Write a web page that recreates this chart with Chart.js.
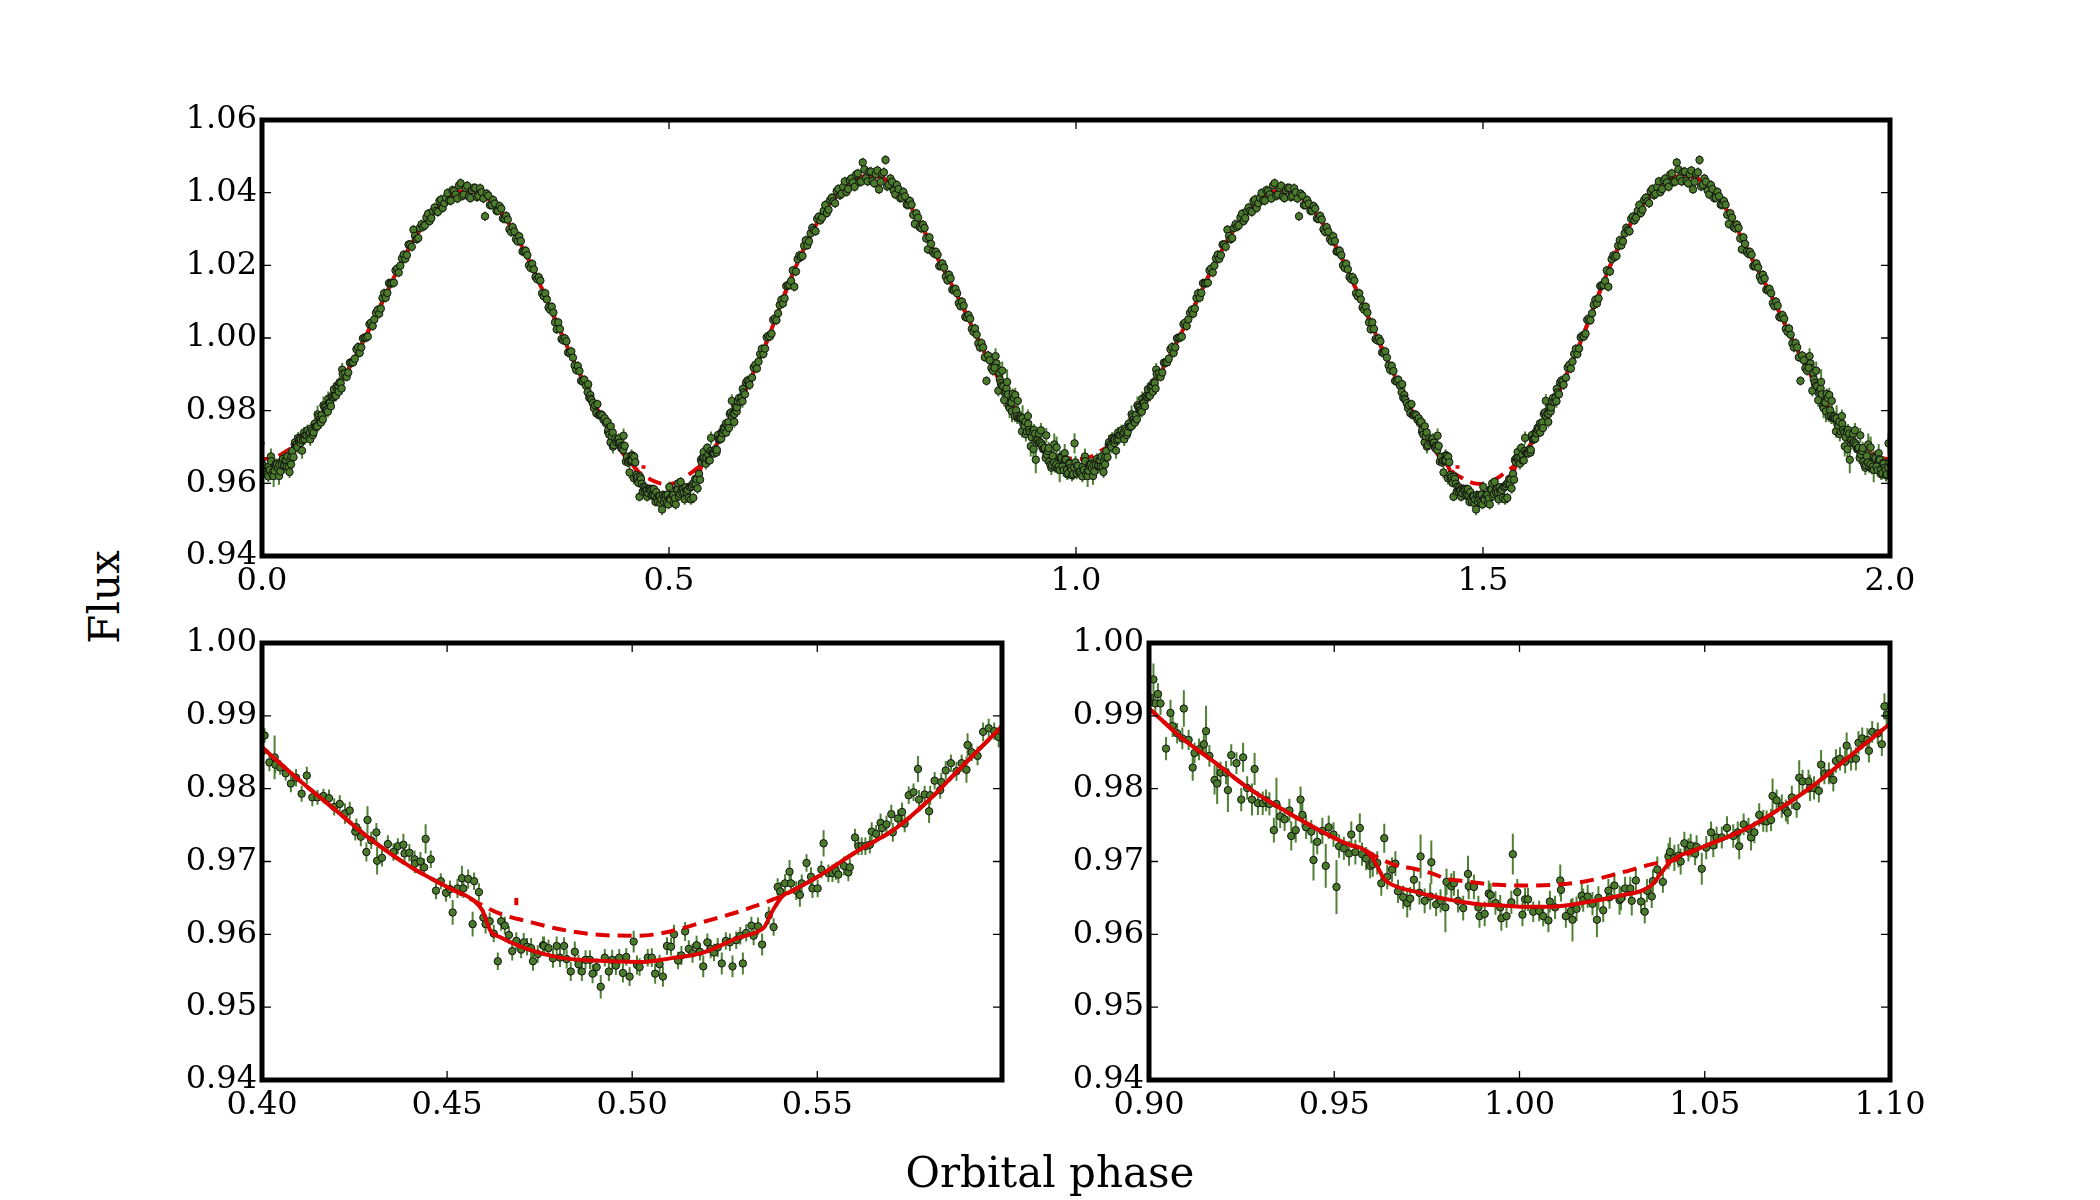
<!DOCTYPE html>
<html>
<head>
<meta charset="utf-8">
<script src="https://cdn.jsdelivr.net/npm/chart.js@4.4.1/dist/chart.umd.min.js"></script>
<style>
  body { margin: 0; width: 2100px; height: 1200px; background: #fff; position: relative; overflow: hidden; }
  canvas { position: absolute; }
  .lbl { position: absolute; font-family: 'DejaVu Serif', serif; font-size: 42px; line-height: 42px; color: #000; white-space: nowrap; }
</style>
</head>
<body>
<canvas id="panelTop"></canvas>
<canvas id="panelLeft"></canvas>
<canvas id="panelRight"></canvas>
<div class="lbl" id="xTitle">Orbital phase</div>
<div class="lbl" id="yTitle">Flux</div>
<script>
let phaseNear1 = [0.9003, 0.9012, 0.9024,
  0.9017,0.9031,0.9046,0.9058,0.9064,0.9076,0.9090,0.9094,0.9107,0.9118,
  0.9123,0.9135,0.9148,0.9154,0.9163,0.9177,0.9184,0.9193,0.9208,0.9213,
  0.9222,0.9236,0.9249,0.9254,0.9265,0.9278,0.9285,0.9294,0.9307,0.9316,
  0.9325,0.9337,0.9344,0.9354,0.9366,0.9379,0.9384,0.9396,0.9409,0.9414,
  0.9424,0.9438,0.9444,0.9454,0.9468,0.9477,0.9485,0.9498,0.9506,0.9513,
  0.9526,0.9540,0.9546,0.9557,0.9569,0.9575,0.9586,0.9597,0.9604,0.9616,
  0.9627,0.9635,0.9643,0.9656,0.9665,0.9672,0.9686,0.9697,0.9705,0.9715,
  0.9730,0.9733,0.9744,0.9759,0.9762,0.9775,0.9787,0.9800,0.9803,0.9816,
  0.9823,0.9834,0.9848,0.9861,0.9863,0.9877,0.9889,0.9892,0.9906,0.9917,
  0.9922,0.9935,0.9948,0.9951,0.9965,0.9978,0.9982,0.9994,1.0008,1.0015,
  1.0023,
  1.0037,1.0053,1.0064,1.0078,1.0082,1.0096,1.0110,1.0112,1.0125,1.0139,
  1.0143,1.0154,1.0168,1.0172,1.0184,1.0197,1.0209,1.0213,1.0226,1.0240,
  1.0243,1.0256,1.0270,1.0274,1.0285,1.0299,1.0303,1.0314,1.0328,1.0338,
  1.0344,1.0357,1.0360,1.0372,1.0387,1.0402,1.0406,1.0418,1.0429,1.0435,
  1.0445,1.0456,1.0462,1.0474,1.0478,1.0492,1.0504,1.0517,1.0523,1.0532,
  1.0546,1.0560,1.0577,1.0589,1.0593,1.0605,1.0618,1.0625,1.0634,1.0647,
  1.0658,1.0667,1.0679,1.0683,1.0694,1.0708,1.0719,1.0724,1.0735,1.0748,
  1.0755,1.0764,1.0780,1.0784,1.0795,1.0808,1.0814,1.0823,1.0835,1.0847,
  1.0854,1.0865,1.0879,1.0883,1.0895,1.0908,1.0915,1.0925,1.0939,1.0943,
  1.0952,1.0967,1.0978,1.0985,1.0991];
let fluxNear1 = [0.9925, 0.9950, 0.9930,
  0.9917,0.9917,0.9855,0.9904,0.9886,0.9876,0.9869,0.9910,0.9867,0.9829,
  0.9849,0.9854,0.9861,0.9879,0.9845,0.9812,0.9807,0.9822,0.9822,0.9798,
  0.9846,0.9835,0.9785,0.9843,0.9801,0.9785,0.9827,0.9780,0.9780,0.9784,
  0.9779,0.9743,0.9779,0.9762,0.9758,0.9770,0.9735,0.9743,0.9785,0.9764,
  0.9747,0.9741,0.9702,0.9727,0.9742,0.9694,0.9747,0.9737,0.9665,0.9721,
  0.9718,0.9711,0.9737,0.9713,0.9746,0.9710,0.9704,0.9694,0.9696,0.9698,
  0.9670,0.9732,0.9679,0.9689,0.9697,0.9659,0.9651,0.9643,0.9649,0.9675,
  0.9657,0.9707,0.9646,0.9652,0.9699,0.9641,0.9646,0.9637,0.9672,0.9666,
  0.9670,0.9646,0.9636,0.9683,0.9666,0.9665,0.9637,0.9625,0.9628,0.9656,
  0.9654,0.9643,0.9637,0.9622,0.9625,0.9644,0.9710,0.9658,0.9627,0.9648,
  0.9648,
  0.9631,0.9632,0.9625,0.9619,0.9645,0.9637,0.9674,0.9661,0.9625,0.9632,
  0.9620,0.9635,0.9653,0.9647,0.9652,0.9642,0.9620,0.9650,0.9633,0.9660,
  0.9651,0.9667,0.9647,0.9649,0.9663,0.9663,0.9646,0.9674,0.9645,0.9631,
  0.9660,0.9652,0.9673,0.9689,0.9672,0.9707,0.9713,0.9705,0.9708,0.9700,
  0.9725,0.9716,0.9722,0.9711,0.9720,0.9690,0.9719,0.9740,0.9722,0.9733,
  0.9733,0.9746,0.9735,0.9740,0.9721,0.9751,0.9745,0.9733,0.9740,0.9764,
  0.9756,0.9755,0.9757,0.9790,0.9784,0.9776,0.9770,0.9767,0.9788,0.9776,
  0.9815,0.9810,0.9810,0.9801,0.9801,0.9797,0.9833,0.9821,0.9821,0.9812,
  0.9838,0.9841,0.9837,0.9859,0.9841,0.9841,0.9863,0.9869,0.9867,0.9852,
  0.9878,0.9876,0.9861,0.9913,0.9901];
let errNear1 = [0.0018, 0.0022, 0.0015,
  0.0015,0.0016,0.0016,0.0018,0.0015,0.0014,0.0015,0.0025,0.0014,0.0018,
  0.0014,0.0015,0.0014,0.0035,0.0015,0.0020,0.0028,0.0015,0.0016,0.0030,
  0.0015,0.0015,0.0016,0.0020,0.0016,0.0022,0.0022,0.0016,0.0016,0.0015,
  0.0016,0.0017,0.0036,0.0016,0.0016,0.0016,0.0020,0.0017,0.0018,0.0017,
  0.0016,0.0016,0.0028,0.0017,0.0018,0.0030,0.0016,0.0017,0.0037,0.0016,
  0.0016,0.0017,0.0018,0.0017,0.0020,0.0016,0.0016,0.0017,0.0017,0.0016,
  0.0017,0.0020,0.0017,0.0017,0.0017,0.0016,0.0016,0.0020,0.0016,0.0017,
  0.0016,0.0030,0.0017,0.0018,0.0030,0.0016,0.0016,0.0034,0.0018,0.0018,
  0.0017,0.0016,0.0017,0.0025,0.0018,0.0017,0.0016,0.0016,0.0017,0.0018,
  0.0016,0.0016,0.0017,0.0017,0.0016,0.0016,0.0028,0.0018,0.0016,0.0016,
  0.0016,
  0.0014,0.0014,0.0014,0.0016,0.0015,0.0016,0.0022,0.0016,0.0016,0.0016,
  0.0030,0.0017,0.0016,0.0016,0.0016,0.0016,0.0024,0.0016,0.0016,0.0016,
  0.0016,0.0016,0.0020,0.0016,0.0016,0.0016,0.0020,0.0016,0.0016,0.0016,
  0.0016,0.0016,0.0016,0.0018,0.0015,0.0018,0.0020,0.0018,0.0016,0.0018,
  0.0016,0.0016,0.0016,0.0016,0.0016,0.0022,0.0016,0.0015,0.0016,0.0015,
  0.0015,0.0016,0.0016,0.0015,0.0018,0.0015,0.0015,0.0018,0.0015,0.0016,
  0.0015,0.0015,0.0015,0.0024,0.0015,0.0016,0.0015,0.0016,0.0016,0.0016,
  0.0024,0.0016,0.0016,0.0018,0.0016,0.0016,0.0020,0.0015,0.0015,0.0016,
  0.0016,0.0016,0.0016,0.0018,0.0016,0.0016,0.0016,0.0015,0.0016,0.0016,
  0.0015,0.0015,0.0016,0.0018,0.0018];

let phaseNear05 = [
  0.4007,0.4020,0.4034,0.4036,0.4049,0.4064,0.4078,0.4092,0.4107,0.4121,
  0.4136,0.4150,0.4166,0.4181,0.4195,0.4210,0.4224,0.4237,0.4252,0.4255,
  0.4267,0.4282,0.4285,0.4295,0.4309,0.4311,0.4324,0.4340,0.4355,0.4367,
  0.4382,0.4385,0.4398,0.4412,0.4413,0.4428,0.4438,0.4442,0.4456,0.4470,
  0.4483,0.4497,0.4508,0.4515,0.4528,0.4540,0.4544,0.4557,0.4569,0.4573,
  0.4586,0.4598,0.4604,0.4615,0.4626,0.4637,0.4646,0.4656,0.4667,0.4676,
  0.4687,0.4700,0.4707,0.4716,0.4727,0.4732,0.4745,0.4759,0.4762,0.4774,
  0.4786,0.4796,0.4805,0.4816,0.4823,0.4834,0.4845,0.4855,0.4864,0.4874,
  0.4886,0.4893,0.4904,0.4915,0.4926,0.4937,0.4946,0.4956,0.4965,0.4975,
  0.4984,0.4993,0.5004,0.5013,0.5020,
  0.5042,0.5053,0.5062,0.5074,0.5083,0.5094,0.5105,0.5113,0.5124,0.5133,
  0.5143,0.5153,0.5163,0.5174,0.5183,0.5192,0.5203,0.5212,0.5221,0.5231,
  0.5242,0.5253,0.5264,0.5271,0.5281,0.5292,0.5299,0.5308,0.5322,0.5328,
  0.5340,0.5351,0.5369,0.5382,0.5393,0.5400,0.5413,0.5425,0.5429,0.5443,
  0.5453,0.5458,0.5471,0.5483,0.5487,0.5501,0.5511,0.5517,0.5530,0.5541,
  0.5550,0.5557,0.5572,0.5584,0.5588,0.5602,0.5611,0.5620,0.5630,0.5642,
  0.5647,0.5659,0.5671,0.5675,0.5687,0.5700,0.5704,0.5718,0.5729,0.5736,
  0.5747,0.5760,0.5772,0.5775,0.5790,0.5802,0.5805,0.5817,0.5832,0.5835,
  0.5847,0.5861,0.5876,0.5890,0.5903,0.5906,0.5917,0.5933,0.5948,0.5963,
  0.5978,0.5990];
let fluxNear05 = [
  0.9873,0.9836,0.9843,0.9833,0.9829,0.9821,0.9807,0.9815,0.9793,0.9818,
  0.9788,0.9788,0.9790,0.9787,0.9775,0.9779,0.9766,0.9770,0.9741,0.9747,
  0.9734,0.9713,0.9757,0.9729,0.9740,0.9701,0.9705,0.9724,0.9713,0.9721,
  0.9723,0.9711,0.9712,0.9703,0.9697,0.9700,0.9692,0.9731,0.9703,0.9660,
  0.9673,0.9657,0.9662,0.9630,0.9663,0.9677,0.9663,0.9676,0.9614,0.9673,
  0.9658,0.9623,0.9614,0.9618,0.9601,0.9563,0.9618,0.9612,0.9599,0.9577,
  0.9591,0.9579,0.9589,0.9583,0.9581,0.9563,0.9573,0.9585,0.9584,0.9581,
  0.9567,0.9584,0.9568,0.9584,0.9566,0.9549,0.9576,0.9559,0.9549,0.9565,
  0.9565,0.9546,0.9555,0.9528,0.9568,0.9549,0.9565,0.9557,0.9568,0.9547,
  0.9569,0.9542,0.9590,0.9558,0.9555,
  0.9568,0.9568,0.9546,0.9559,0.9542,0.9584,0.9583,0.9600,0.9564,0.9571,
  0.9604,0.9580,0.9574,0.9585,0.9576,0.9556,0.9589,0.9580,0.9575,0.9582,
  0.9560,0.9591,0.9589,0.9556,0.9592,0.9598,0.9560,0.9602,0.9612,0.9598,
  0.9611,0.9586,0.9626,0.9610,0.9665,0.9659,0.9670,0.9686,0.9670,0.9660,
  0.9654,0.9670,0.9698,0.9679,0.9663,0.9663,0.9689,0.9725,0.9684,0.9684,
  0.9687,0.9682,0.9694,0.9685,0.9692,0.9733,0.9721,0.9721,0.9721,0.9723,
  0.9741,0.9738,0.9753,0.9746,0.9751,0.9765,0.9740,0.9759,0.9768,0.9752,
  0.9791,0.9795,0.9827,0.9785,0.9792,0.9769,0.9791,0.9811,0.9798,0.9809,
  0.9825,0.9835,0.9824,0.9835,0.9826,0.9860,0.9850,0.9845,0.9878,0.9883,
  0.9879,0.9871];
let errNear05 = [
  0.0010,0.0012,0.0030,0.0012,0.0010,0.0010,0.0012,0.0012,0.0011,0.0012,
  0.0012,0.0010,0.0010,0.0012,0.0012,0.0012,0.0014,0.0012,0.0012,0.0012,
  0.0013,0.0013,0.0019,0.0012,0.0013,0.0019,0.0012,0.0012,0.0012,0.0011,
  0.0015,0.0013,0.0012,0.0012,0.0013,0.0013,0.0012,0.0020,0.0012,0.0012,
  0.0011,0.0012,0.0012,0.0017,0.0013,0.0017,0.0013,0.0013,0.0017,0.0012,
  0.0012,0.0012,0.0013,0.0012,0.0012,0.0012,0.0013,0.0012,0.0012,0.0013,
  0.0012,0.0012,0.0013,0.0012,0.0014,0.0013,0.0012,0.0012,0.0013,0.0012,
  0.0013,0.0013,0.0013,0.0012,0.0013,0.0013,0.0014,0.0013,0.0013,0.0013,
  0.0013,0.0013,0.0012,0.0016,0.0012,0.0013,0.0014,0.0013,0.0012,0.0013,
  0.0012,0.0013,0.0015,0.0013,0.0012,
  0.0012,0.0013,0.0014,0.0013,0.0014,0.0012,0.0012,0.0013,0.0012,0.0013,
  0.0013,0.0012,0.0013,0.0013,0.0012,0.0015,0.0012,0.0013,0.0012,0.0013,
  0.0015,0.0012,0.0012,0.0015,0.0012,0.0012,0.0015,0.0012,0.0012,0.0013,
  0.0012,0.0015,0.0012,0.0012,0.0012,0.0013,0.0013,0.0016,0.0013,0.0013,
  0.0016,0.0012,0.0012,0.0013,0.0013,0.0012,0.0012,0.0018,0.0012,0.0012,
  0.0012,0.0012,0.0013,0.0012,0.0012,0.0012,0.0012,0.0012,0.0012,0.0012,
  0.0013,0.0012,0.0013,0.0012,0.0012,0.0013,0.0013,0.0012,0.0013,0.0012,
  0.0012,0.0012,0.0018,0.0013,0.0012,0.0016,0.0013,0.0012,0.0012,0.0013,
  0.0013,0.0012,0.0013,0.0012,0.0018,0.0016,0.0012,0.0013,0.0013,0.0013,
  0.0012,0.0014];

let phaseHump1 = [0.102,0.104,0.106,0.108,0.110,0.112,0.114,0.116,0.118,0.120,
  0.122,0.124,0.126,0.128,0.130,0.132,0.134,0.136,0.138,0.140,
  0.142,0.144,0.146,0.148,0.150,0.152,0.154,0.156,0.158,0.160,
  0.162,0.164,0.166,0.168,0.170,0.172,0.174,0.176,0.178,0.180,
  0.182,0.184,0.186,0.188,0.190,0.192,0.194,0.196,0.198,0.200,
  0.202,0.204,0.206,0.208,0.210,0.212,0.214,0.216,0.218,0.220,
  0.222,0.224,0.226,0.228,0.230,0.232,0.234,0.236,0.238,0.240,
  0.242,0.244,0.246,0.248,0.250,0.252,0.254,0.256,0.258,0.260,
  0.262,0.264,0.266,0.268,0.270,0.272,0.274,0.276,0.278,0.280,
  0.282,0.284,0.286,0.288,0.290,0.292,0.294,0.296,0.298,0.300,
  0.302,0.304,0.306,0.308,0.310,0.312,0.314,0.316,0.318,0.320,
  0.322,0.324,0.326,0.328,0.330,0.332,0.334,0.336,0.338,0.340,
  0.342,0.344,0.346,0.348,0.350,0.352,0.354,0.356,0.358,0.360,
  0.362,0.364,0.366,0.368,0.370,0.372,0.374,0.376,0.378,0.380,
  0.382,0.384,0.386,0.388,0.390,0.392,0.394,0.396,0.398,0.400];
let fluxHump1 = [0.9903,0.9893,0.9905,0.9932,0.9932,0.9933,0.9943,0.9969,0.9975,0.9959,
  0.9974,0.9999,1.0001,1.0001,1.0004,1.0038,1.0042,1.0033,1.0051,1.0069,
  1.0077,1.0067,1.0081,1.0110,1.0123,1.0111,1.0124,1.0151,1.0150,1.0151,
  1.0152,1.0186,1.0191,1.0180,1.0199,1.0219,1.0229,1.0218,1.0228,1.0257,
  1.0257,1.0251,1.0298,1.0281,1.0272,1.0275,1.0303,1.0313,1.0306,1.0310,
  1.0332,1.0342,1.0322,1.0330,1.0349,1.0359,1.0350,1.0347,1.0377,1.0381,
  1.0358,1.0371,1.0386,1.0399,1.0379,1.0378,1.0407,1.0404,1.0395,1.0384,
  1.0420,1.0426,1.0391,1.0395,1.0413,1.0419,1.0389,1.0385,1.0407,1.0413,
  1.0413,1.0388,1.0391,1.0412,1.0401,1.0384,1.0335,1.0397,1.0392,1.0366,
  1.0366,1.0380,1.0370,1.0350,1.0350,1.0363,1.0356,1.0329,1.0328,1.0336,
  1.0326,1.0299,1.0292,1.0305,1.0293,1.0272,1.0266,1.0280,1.0267,1.0238,
  1.0238,1.0240,1.0228,1.0200,1.0193,1.0204,1.0189,1.0168,1.0162,1.0167,
  1.0158,1.0123,1.0115,1.0123,1.0106,1.0084,1.0078,1.0086,1.0070,1.0043,
  1.0024,1.0043,1.0025,0.9997,0.9994,0.9999,0.9991,0.9960,0.9959,0.9963,
  0.9946,0.9924,0.9912,0.9923,0.9909,0.9882,0.9881,0.9885,0.9869,0.9851];
let phaseHump2 = [0.602,0.604,0.606,0.608,0.610,0.612,0.614,0.616,0.618,0.620,
  0.622,0.624,0.626,0.628,0.630,0.632,0.634,0.636,0.638,0.640,
  0.642,0.644,0.646,0.648,0.650,0.652,0.654,0.656,0.658,0.660,
  0.662,0.664,0.666,0.668,0.670,0.672,0.674,0.676,0.678,0.680,
  0.682,0.684,0.686,0.688,0.690,0.692,0.694,0.696,0.698,0.700,
  0.702,0.704,0.706,0.708,0.710,0.712,0.714,0.716,0.718,0.720,
  0.722,0.724,0.726,0.728,0.730,0.732,0.734,0.736,0.738,0.740,
  0.742,0.744,0.746,0.748,0.750,0.752,0.754,0.756,0.758,0.760,
  0.762,0.764,0.766,0.768,0.770,0.772,0.774,0.776,0.778,0.780,
  0.782,0.784,0.786,0.788,0.790,0.792,0.794,0.796,0.798,0.800,
  0.802,0.804,0.806,0.808,0.810,0.812,0.814,0.816,0.818,0.820,
  0.822,0.824,0.826,0.828,0.830,0.832,0.834,0.836,0.838,0.840,
  0.842,0.844,0.846,0.848,0.850,0.852,0.854,0.856,0.858,0.860,
  0.862,0.864,0.866,0.868,0.870,0.872,0.874,0.876,0.878,0.880,
  0.882,0.884,0.886,0.888,0.890,0.892,0.894,0.896,0.898,0.900];
let fluxHump2 = [0.9891,0.9919,0.9926,0.9916,0.9935,0.9956,0.9970,0.9956,0.9971,1.0002,
  1.0006,1.0004,1.0012,1.0050,1.0054,1.0049,1.0068,1.0091,1.0105,1.0095,
  1.0109,1.0143,1.0145,1.0146,1.0157,1.0186,1.0141,1.0183,1.0217,1.0227,
  1.0223,1.0226,1.0254,1.0269,1.0255,1.0266,1.0288,1.0303,1.0297,1.0294,
  1.0328,1.0334,1.0324,1.0331,1.0350,1.0366,1.0344,1.0353,1.0380,1.0386,
  1.0376,1.0371,1.0404,1.0410,1.0393,1.0397,1.0416,1.0431,1.0402,1.0410,
  1.0434,1.0439,1.0428,1.0416,1.0450,1.0453,1.0429,1.0430,1.0483,1.0464,
  1.0440,1.0431,1.0457,1.0458,1.0432,1.0426,1.0451,1.0461,1.0409,1.0430,
  1.0452,1.0456,1.0490,1.0417,1.0422,1.0439,1.0430,1.0406,1.0395,1.0421,
  1.0410,1.0385,1.0386,1.0402,1.0390,1.0367,1.0367,1.0377,1.0367,1.0339,
  1.0314,1.0343,1.0331,1.0305,1.0302,1.0312,1.0303,1.0274,1.0244,1.0277,
  1.0259,1.0237,1.0232,1.0237,1.0229,1.0198,1.0199,1.0205,1.0194,1.0169,
  1.0159,1.0174,1.0164,1.0133,1.0132,1.0135,1.0123,1.0096,1.0088,1.0100,
  1.0089,1.0058,1.0057,1.0063,1.0053,1.0025,1.0017,1.0026,1.0009,0.9985,
  0.9974,0.9986,0.9974,0.9947,0.9882,0.9952,0.9939,0.9917,0.9910,0.9918];
let errHump = 0.0013;

// model curves over one cycle: with eclipses (solid) and without (dashed)
let modelPhase = [0,0.009,0.018,0.027,0.0355,0.0382,0.041,0.049,0.062,0.071,0.080,0.089,0.099,
  0.11,0.12,0.13,0.14,0.15,0.16,0.17,0.18,0.19,0.20,0.21,0.22,0.23,0.24,0.25,0.26,0.27,0.28,0.29,0.30,
  0.31,0.32,0.33,0.34,0.35,0.36,0.37,0.38,0.39,0.40,
  0.41,0.42,0.43,0.44,0.45,0.4573,0.4595,0.4617,0.4644,0.4716,0.4805,0.4895,0.502,0.5103,0.5192,
  0.5281,0.5344,0.5357,0.5380,0.5407,0.5434,0.5514,0.5604,0.5711,0.5801,0.5890,0.5980,
  0.61,0.62,0.63,0.64,0.65,0.66,0.67,0.68,0.69,0.70,0.71,0.72,0.73,0.74,0.75,0.76,0.77,0.78,0.79,0.80,
  0.81,0.82,0.83,0.84,0.85,0.86,0.87,0.88,0.89,0.90,
  0.9085,0.9175,0.9265,0.9355,0.9445,0.9536,0.9581,0.9608,0.9635,0.9671,0.9716,0.9761,0.9806,0.9851,0.9896,0.9941];
let modelEclipse = [0.9638,0.9638,0.9644,0.9653,0.9667,0.9684,0.9701,0.9719,0.9747,0.9775,0.9807,0.9844,0.9885,
  0.9930,0.9972,1.0016,1.0062,1.0110,1.0157,1.0202,1.0245,1.0283,1.0317,1.0346,1.0370,1.0388,1.0400,1.0405,1.0403,1.0395,1.0380,1.0356,1.0326,
  1.0290,1.0249,1.0204,1.0155,1.0104,1.0052,1.0001,0.9951,0.9903,0.9857,
  0.9812,0.9770,0.9728,0.9693,0.9665,0.9646,0.9633,0.9605,0.9596,0.9580,0.9568,0.9564,0.9562,0.9567,0.9575,
  0.9594,0.9605,0.9610,0.9633,0.9653,0.9660,0.9683,0.9713,0.9745,0.9784,0.9830,0.9876,
  0.9938,0.9990,1.0048,1.0108,1.0165,1.0218,1.0266,1.0309,1.0346,1.0377,1.0403,1.0423,1.0437,1.0445,1.0447,1.0442,1.0430,1.0411,1.0384,1.0350,
  1.0310,1.0265,1.0220,1.0178,1.0135,1.0090,1.0043,0.9995,0.9950,0.9910,
  0.9871,0.9837,0.9802,0.9773,0.9747,0.9724,0.9716,0.9701,0.9676,0.9665,0.9659,0.9653,0.9648,0.9644,0.9641,0.9640];
let modelNoEclipse = [0.9667,0.9668,0.9673,0.9684,0.9696,0.9699,0.9701,0.9719,0.9747,0.9775,0.9807,0.9844,0.9885,
  0.9930,0.9972,1.0016,1.0062,1.0110,1.0157,1.0202,1.0245,1.0283,1.0317,1.0346,1.0370,1.0388,1.0400,1.0405,1.0403,1.0395,1.0380,1.0356,1.0326,
  1.0290,1.0249,1.0204,1.0155,1.0104,1.0052,1.0001,0.9951,0.9903,0.9857,
  0.9812,0.9770,0.9728,0.9693,0.9665,0.9646,0.9640,0.9634,0.9628,0.9618,0.9607,0.9600,0.9598,0.9604,0.9617,
  0.9630,0.9641,0.9643,0.9648,0.9653,0.9660,0.9683,0.9713,0.9745,0.9784,0.9830,0.9876,
  0.9938,0.9990,1.0048,1.0108,1.0165,1.0218,1.0266,1.0309,1.0346,1.0377,1.0403,1.0423,1.0437,1.0445,1.0447,1.0442,1.0430,1.0411,1.0384,1.0350,
  1.0310,1.0265,1.0220,1.0178,1.0135,1.0090,1.0043,0.9995,0.9950,0.9910,
  0.9871,0.9837,0.9802,0.9773,0.9747,0.9724,0.9716,0.9708,0.9701,0.9694,0.9690,0.9684,0.9676,0.9673,0.9670,0.9668];
// stray red dash seen above the dashed model near phase 0.469
let strayPhase = [0.4687, 0.4687];
let strayFlux = [0.9640, 0.9650];

// axes
let topXTicks = [0.0, 0.5, 1.0, 1.5, 2.0];
let topYTicks = [0.94, 0.96, 0.98, 1.00, 1.02, 1.04, 1.06];
let leftXTicks = [0.40, 0.45, 0.50, 0.55];
let rightXTicks = [0.90, 0.95, 1.00, 1.05, 1.10];
let zoomYTicks = [0.94, 0.95, 0.96, 0.97, 0.98, 0.99, 1.00];

// the folded light curve is shown over more than one cycle
let cycleShifts = [-1, 0, 1, 2];

function fold(ph, fl, er, breakCopies) {
  let out = [];
  cycleShifts.forEach(s => {
    ph.forEach((p, i) => out.push({ x: p + s, y: fl[i], e: Array.isArray(er) ? er[i] : er }));
    if (breakCopies) out.push({ x: ph[ph.length - 1] + s, y: null });
  });
  return out;
}

let obsPoints = []
  .concat(fold(phaseNear1, fluxNear1, errNear1))
  .concat(fold(phaseHump1, fluxHump1, errHump))
  .concat(fold(phaseNear05, fluxNear05, errNear05))
  .concat(fold(phaseHump2, fluxHump2, errHump));
let solidModel = fold(modelPhase, modelEclipse, 0);
let dashedModel = fold(modelPhase, modelNoEclipse, 0);
let strayLine = fold(strayPhase, strayFlux, 0, true);

const TICK_FONT = { family: 'DejaVu Serif', size: 32 };
const Y_AXIS_W = 130, X_AXIS_H = 70, PAD_TOP = 30, PAD_RIGHT = 45;

const errorBars = {
  id: 'errorBars',
  beforeDatasetDraw(chart, args) {
    const ds = chart.data.datasets[args.index];
    if (!ds.withErrors) return;
    const { ctx, chartArea: a, scales: { x, y } } = chart;
    ctx.save();
    ctx.beginPath();
    ctx.rect(a.left, a.top, a.right - a.left, a.bottom - a.top);
    ctx.clip();
    ctx.strokeStyle = 'rgba(60,115,30,0.9)';
    ctx.lineWidth = 2;
    ctx.beginPath();
    ds.data.forEach(p => {
      if (!p.e) return;
      const px = x.getPixelForValue(p.x);
      ctx.moveTo(px, y.getPixelForValue(p.y - p.e));
      ctx.lineTo(px, y.getPixelForValue(p.y + p.e));
    });
    ctx.stroke();
    ctx.restore();
  }
};

const frame = {
  id: 'frame',
  afterDatasetsDraw(chart) {
    const { ctx, chartArea: a, scales: { x, y } } = chart;
    ctx.save();
    ctx.strokeStyle = '#000';
    ctx.lineWidth = 1.3;
    ctx.beginPath();
    x.ticks.forEach(t => {
      const px = x.getPixelForValue(t.value);
      ctx.moveTo(px, a.bottom); ctx.lineTo(px, a.bottom - 9);
      ctx.moveTo(px, a.top); ctx.lineTo(px, a.top + 9);
    });
    y.ticks.forEach(t => {
      const py = y.getPixelForValue(t.value);
      ctx.moveTo(a.left, py); ctx.lineTo(a.left + 9, py);
      ctx.moveTo(a.right, py); ctx.lineTo(a.right - 9, py);
    });
    ctx.stroke();
    ctx.lineWidth = 5;
    ctx.strokeRect(a.left, a.top, a.right - a.left, a.bottom - a.top);
    ctx.restore();
  }
};

function makePanel(id, box, xMin, xMax, xTicks, xDec, yMin, yMax, yTicks, linesOnTop) {
  const cv = document.getElementById(id);
  cv.width = box.R - box.L + Y_AXIS_W + PAD_RIGHT;
  cv.height = box.B - box.T + PAD_TOP + X_AXIS_H;
  cv.style.left = (box.L - Y_AXIS_W) + 'px';
  cv.style.top = (box.T - PAD_TOP) + 'px';

  return new Chart(cv.getContext('2d'), {
    type: 'scatter',
    data: {
      datasets: [{
        type: 'scatter',
        data: obsPoints,
        withErrors: true,
        pointRadius: 3.7,
        pointHoverRadius: 3.7,
        pointBackgroundColor: '#4a7b2b',
        pointBorderColor: '#111',
        pointBorderWidth: 1,
        order: linesOnTop ? 2 : 0
      }, {
        type: 'line',
        data: dashedModel,
        borderColor: '#dd0000',
        borderWidth: 4,
        borderDash: [14, 8],
        pointRadius: 0,
        fill: false,
        cubicInterpolationMode: 'monotone',
        order: linesOnTop ? 1 : 2
      }, {
        type: 'line',
        data: strayLine,
        borderColor: '#dd0000',
        borderWidth: 4,
        pointRadius: 0,
        fill: false,
        spanGaps: false,
        order: linesOnTop ? 1 : 2
      }, {
        type: 'line',
        data: solidModel,
        borderColor: '#dd0000',
        borderWidth: 4,
        pointRadius: 0,
        fill: false,
        cubicInterpolationMode: 'monotone',
        order: linesOnTop ? 0 : 1
      }]
    },
    options: {
      responsive: false,
      animation: false,
      devicePixelRatio: 1,
      events: [],
      layout: { padding: { top: PAD_TOP, right: PAD_RIGHT, left: 0, bottom: 0 } },
      plugins: { legend: { display: false }, tooltip: { enabled: false } },
      scales: {
        x: {
          type: 'linear', min: xMin, max: xMax,
          grid: { display: false, drawTicks: false },
          border: { display: false },
          ticks: {
            color: '#000', font: TICK_FONT, padding: 6, maxRotation: 0, autoSkip: false,
            callback: v => v.toFixed(xDec)
          },
          afterBuildTicks: ax => { ax.ticks = xTicks.map(v => ({ value: v })); },
          afterFit: ax => { ax.height = X_AXIS_H; }
        },
        y: {
          type: 'linear', min: yMin, max: yMax,
          grid: { display: false, drawTicks: false },
          border: { display: false },
          ticks: {
            color: '#000', font: TICK_FONT, padding: 5, autoSkip: false,
            callback: v => v.toFixed(2)
          },
          afterBuildTicks: ax => { ax.ticks = yTicks.map(v => ({ value: v })); },
          afterFit: ax => { ax.width = Y_AXIS_W; }
        }
      }
    },
    plugins: [errorBars, frame]
  });
}

makePanel('panelTop', { L: 262, T: 120, R: 1890, B: 556 }, 0, 2, topXTicks, 1, 0.94, 1.06, topYTicks, false);
makePanel('panelLeft', { L: 262, T: 643, R: 1002, B: 1080 }, 0.40, 0.5999, leftXTicks, 2, 0.94, 1.00, zoomYTicks, true);
makePanel('panelRight', { L: 1149, T: 643, R: 1890, B: 1080 }, 0.90, 1.10, rightXTicks, 2, 0.94, 1.00, zoomYTicks, true);

const xt = document.getElementById('xTitle');
xt.style.left = '1050px';
xt.style.top = '1152px';
xt.style.transform = 'translateX(-50%)';
const yt = document.getElementById('yTitle');
yt.style.left = '105px';
yt.style.top = '597px';
yt.style.transform = 'translate(-50%, -50%) rotate(-90deg)';
</script>
</body>
</html>
